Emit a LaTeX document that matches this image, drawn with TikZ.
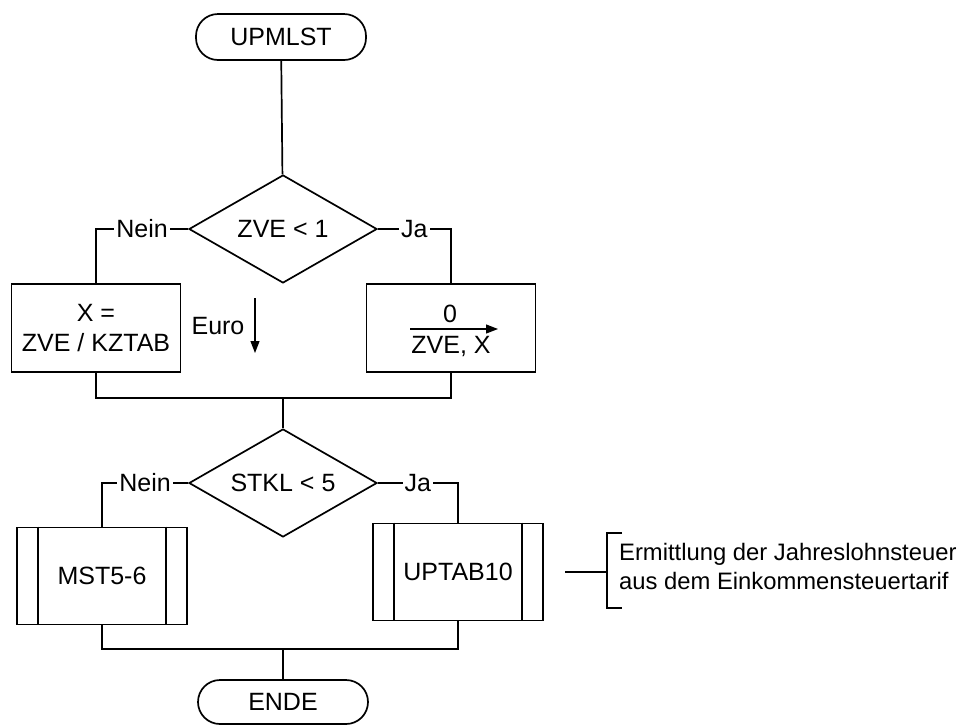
\documentclass[tikz,border=0pt]{standalone}
\usepackage{fontspec}
\setmainfont{Liberation Sans}
\usetikzlibrary{shapes.geometric, arrows.meta, positioning, calc}

\begin{document}
\begin{tikzpicture}[
                x=1pt, y=-1pt,
                line width=1.7pt,
                font=\fontsize{25}{30}\selectfont,
                term/.style={rectangle, draw, rounded corners=22pt, minimum width=170pt, minimum height=46pt, align=center},
                decision/.style={diamond, draw, aspect=1.8, inner sep=0pt, minimum width=188pt, minimum height=108pt, align=center},
                process/.style={rectangle, draw, minimum width=169pt, minimum height=88pt, align=center},
                subproc/.style={rectangle, draw, minimum width=170pt, minimum height=97pt, align=center},
                answer/.style={fill=white, inner sep=2pt},
                tip/.style={-{Triangle[length=12pt, width=9pt]}}
            ]
                \useasboundingbox (0,0) rectangle (969,724);

                \node[term] (start) at (281,37) {UPMLST};
                \node[decision] (zve) at (283,229) {ZVE < 1};
                \node[process] (xcalc) at (96,328) {X =\\ZVE / KZTAB};
                \node[process] (xnull) at (451,328) {};
                \node (null) at (450,314) {0};
                \node (zvex) at (451,346) {ZVE, X};
                \node (euro) at (218,326) {Euro};
                \node[decision] (stkl) at (283,483) {STKL < 5};
                \node[subproc] (mst) at (102,576) {MST5-6};
                \node[subproc] (uptab) at (458,572) {UPTAB10};
                \node[term, minimum height=44pt] (ende) at (283,702) {ENDE};
                \node[anchor=west, align=left, font=\fontsize{23.8}{29}\selectfont] (note) at (615,566) {Ermittlung der Jahreslohnsteuer\\aus dem Einkommensteuertarif};

                \coordinate (join1) at (283,398);
                \coordinate (join2) at (283,649);

                % first decision
                \draw (start) -- (zve);
                \draw (zve.west) -| node[answer, pos=0.25] {Nein} (xcalc.north);
                \draw (zve.east) -| node[answer, pos=0.25] {Ja} (xnull.north);
                \draw (xcalc.south) |- (join1) -| (xnull.south);
                \draw (join1) -- (stkl);

                % Euro and assignment arrows
                \coordinate (euro1) at (255,298);
                \coordinate (euro2) at (255,353);
                \draw[tip, line width=1.2pt] (euro1) -- (euro2);
                \coordinate (arr1) at (410,329);
                \coordinate (arr2) at (498,329);
                \draw[tip, line width=1.2pt] (arr1) -- (arr2);

                % second decision
                \draw (stkl.west) -| node[answer, pos=0.25] {Nein} (mst.north);
                \draw (stkl.east) -| node[answer, pos=0.25] {Ja} (uptab.north);
                \draw (mst.south) |- (join2) -| (uptab.south);
                \draw (join2) -- (ende);

                % bars of the subroutine boxes
                \foreach \sub in {mst, uptab} {
                    \draw ([xshift=22pt]\sub.north west) -- ([xshift=22pt]\sub.south west);
                    \draw ([xshift=-22pt]\sub.north east) -- ([xshift=-22pt]\sub.south east);
                }

                % comment bracket
                \coordinate (c1) at (565,572);
                \coordinate (c2) at (607,572);
                \draw (c1) -- (c2);
                \draw ([xshift=15pt]c2 |- 0,533) -- (c2 |- 0,533) -- (c2 |- 0,608) -- ([xshift=15pt]c2 |- 0,608);
            \end{tikzpicture}
\end{document}
